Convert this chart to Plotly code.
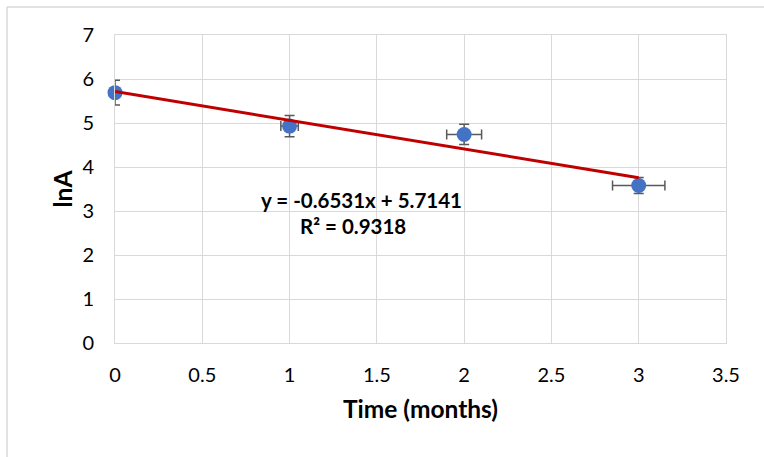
import plotly.graph_objects as go

# Data
time_months = [0, 1, 2, 3]
lnA = [5.69, 4.93, 4.74, 3.58]
lnA_err = [0.28, 0.24, 0.23, 0.18]
time_err = [0.0, 0.05, 0.10, 0.15]
slope = -0.6531
intercept = 5.7141
r2 = 0.9318
x_ticks = [0, 0.5, 1, 1.5, 2, 2.5, 3, 3.5]
y_ticks = [0, 1, 2, 3, 4, 5, 6, 7]

FONT = "Lato, Carlito, Calibri, sans-serif"
GRID = "#D9D9D9"

fig = go.Figure()

fig.add_trace(go.Scatter(
    x=time_months, y=lnA, mode="markers", cliponaxis=False,
    marker=dict(color="#4472C4", size=15),
    error_y=dict(type="data", array=lnA_err, color="#595959", thickness=1.5, width=5),
    error_x=dict(type="data", array=time_err, color="#595959", thickness=1.5, width=5),
    showlegend=False))

# trendline (drawn on top, as in the source)
tx = [min(time_months), max(time_months)]
ty = [slope * v + intercept for v in tx]
fig.add_trace(go.Scatter(x=tx, y=ty, mode="lines",
                         line=dict(color="#C00000", width=3),
                         showlegend=False, hoverinfo="skip"))

fig.add_annotation(x=1.41, y=3.25, xref="x", yref="y", showarrow=False,
                   text=f"<b>y = {slope:.4f}x + {intercept:.4f}</b>",
                   font=dict(family=FONT, size=20.5, color="#000000"))
fig.add_annotation(x=1.365, y=2.66, xref="x", yref="y", showarrow=False,
                   text=f"<b>R² = {r2:.4f}</b>",
                   font=dict(family=FONT, size=20.5, color="#000000"))

# chart border (left and top)
L, R, T, B = 115, 38, 35, 114
W, H = 764, 457
pw, ph = W - L - R, H - T - B
def px(xp):
    return (xp - L) / pw
def py(yp):
    return (H - B - yp) / ph
fig.add_shape(type="line", xref="paper", yref="paper", x0=px(7), x1=px(770), y0=py(7), y1=py(7),
              line=dict(color="#D9D9D9", width=1.5))
fig.add_shape(type="line", xref="paper", yref="paper", x0=px(7), x1=px(7), y0=py(7), y1=py(460),
              line=dict(color="#D9D9D9", width=1.5))

fig.update_layout(
    width=W, height=H,
    margin=dict(l=L, r=R, t=T, b=B),
    paper_bgcolor="white", plot_bgcolor="white",
    font=dict(family=FONT, size=20, color="#000000"),
    xaxis=dict(range=[0, 3.5], tickvals=x_ticks, ticktext=[str(v) for v in x_ticks],
               showgrid=True, gridcolor=GRID, gridwidth=1, zeroline=False,
               showline=True, linecolor=GRID, linewidth=1, mirror=True,
               ticks="", ticklabelstandoff=14,
               title=dict(text="<b>Time (months)</b>", font=dict(size=24.5), standoff=15)),
    yaxis=dict(range=[0, 7], tickvals=y_ticks,
               showgrid=True, gridcolor=GRID, gridwidth=1, zeroline=False,
               showline=True, linecolor=GRID, linewidth=1, mirror=True,
               ticks="", ticklabelstandoff=16,
               title=dict(text="<b>lnA</b>", font=dict(size=24.5), standoff=2)),
)

fig.write_html("out.html", config={"displayModeBar": False},
               post_script="document.body.style.margin='0';")
